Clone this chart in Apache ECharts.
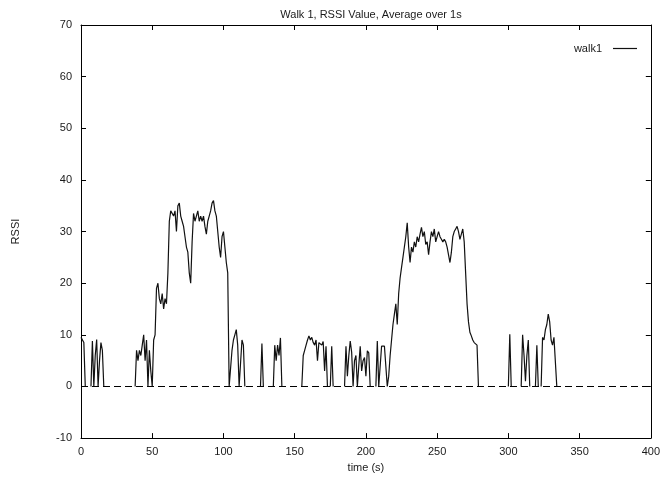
<!DOCTYPE html>
<html>
<head>
<meta charset="utf-8">
<script src="https://cdn.jsdelivr.net/npm/echarts@6/dist/echarts.min.js"></script>
<style>
html,body{margin:0;padding:0;background:#fff;}
#chart{width:663px;height:478px;}
</style>
</head>
<body>
<div id="chart"></div>
<script>
// ---- data ----
const titleText = 'Walk 1, RSSI Value, Average over 1s';
const seriesName = 'walk1';
const xName = 'time (s)';
const yName = 'RSSI';
const xTicks = [0, 50, 100, 150, 200, 250, 300, 350, 400];
const yTicks = [-10, 0, 10, 20, 30, 40, 50, 60, 70];
const startTime = 0;   // s
const sampleStep = 1;  // s (average over 1 s)
const rssi = [
  9.5, 9.2, 8.5, 0, 0, 0, 0, 0, 8.8, 0,
  6, 9.1, 0, 5, 8.5, 7, 0, 0, 0, 0,
  0, 0, 0, 0, 0, 0, 0, 0, 0, 0,
  0, 0, 0, 0, 0, 0, 0, 0, 0, 7,
  5, 7, 6, 8, 10, 5, 9, 0, 7, 3,
  0, 9, 10, 19, 20, 17, 16, 18, 15, 17,
  16, 22, 32, 34, 34, 33, 34, 30, 35, 35.5,
  33, 32, 31, 29, 27, 26, 22, 20, 28, 33.5,
  32, 33, 34, 32, 33, 32, 33, 31, 29.5, 32,
  33, 34, 35.5, 36, 34, 33, 30, 27, 25, 29,
  30, 27, 24, 22, 0, 0, 7, 9, 10, 11,
  8, 0, 0, 9, 8, 0, 0, 0, 0, 0,
  0, 0, 0, 0, 0, 0, 0, 8.3, 0, 0,
  0, 0, 0, 0, 0, 0, 8, 5, 8, 6,
  9.4, 0, 0, 0, 0, 0, 0, 0, 0, 0,
  0, 0, 0, 0, 0, 0, 6, 7, 8, 9,
  9.8, 9, 9.5, 8.5, 8, 9, 5, 8.5, 8.4, 8,
  8.7, 3, 7.8, 0, 0, 0, 7.8, 0, 0, 0,
  0, 0, 0, 0, 0, 0, 7.8, 2, 6, 8.8,
  6.6, 0, 5, 6, 0, 4, 7.8, 3, 5, 5.6,
  2, 6.9, 6.5, 0, 0, 0, 0, 0, 8.8, 0,
  0, 7.8, 8, 7.8, 8, 0, 2, 6, 9, 12,
  14, 16, 12, 18, 21, 23, 25, 27, 29, 31.7,
  27, 24, 27, 26, 28, 27, 29, 28, 29.5, 30.8,
  29, 30, 27.5, 28, 25.5, 28, 30, 29, 30.5, 28,
  29, 30, 29, 28.5, 28, 28.5, 28, 27, 25.5, 24,
  26, 29, 30, 30.5, 31, 30, 28.5, 29.5, 30.5, 28,
  22, 16, 12.5, 10.5, 9.8, 9, 8.5, 8.2, 8, 0,
  0, 0, 0, 0, 0, 0, 0, 0, 0, 0,
  0, 0, 0, 0, 0, 0, 0, 0, 0, 0,
  0, 10.1, 0, 0, 0, 0, 0, 0, 0, 0,
  10, 6, 1, 6, 9, 0, 0, 0, 0, 0,
  8, 0, 0, 0, 9.5, 9, 11, 12, 14, 12.5,
  9, 8, 9.5, 9.7, 0
];

// Long runs of zero are not drawn in the reference (only the dashed zero axis shows there)
const lineData = rssi.map((v, i) => {
  const prev = i > 0 ? rssi[i - 1] : 0;
  const next = i < rssi.length - 1 ? rssi[i + 1] : 0;
  const hidden = v === 0 && prev === 0 && next === 0;
  return [startTime + i * sampleStep, hidden ? null : v];
});

const font = 'Liberation Sans, Arial, sans-serif';
const ink = '#1a1a1a';
const xMin = xTicks[0], xMax = xTicks[xTicks.length - 1], xInt = xTicks[1] - xTicks[0];
const yMin = yTicks[0], yMax = yTicks[yTicks.length - 1], yInt = yTicks[1] - yTicks[0];

const chart = echarts.init(document.getElementById('chart'), null, {renderer: 'canvas'});
const baseAxisLine = {show: true, onZero: false, lineStyle: {color: '#000', width: 1}};
const baseTick = {show: true, inside: true, length: 5, lineStyle: {color: '#000', width: 1}};

chart.setOption({
  animation: false,
  backgroundColor: '#fff',
  title: {
    text: titleText,
    left: 366,
    top: 4,
    textAlign: 'center',
    textStyle: {fontFamily: font, fontSize: 11, fontWeight: 'normal', color: ink}
  },
  legend: {
    data: [{name: seriesName, icon: 'rect'}],
    right: 21,
    top: 38,
    align: 'right',
    itemWidth: 24,
    itemHeight: 1.2,
    textStyle: {fontFamily: font, fontSize: 11, color: ink, padding: [0, 6, 0, 0]}
  },
  grid: {left: 81, right: 11, top: 25, bottom: 35, containLabel: false},
  xAxis: [{
    type: 'value', min: xMin, max: xMax, interval: xInt,
    name: xName, nameLocation: 'middle', nameGap: 23,
    nameTextStyle: {fontFamily: font, fontSize: 11, color: ink},
    axisLine: baseAxisLine, axisTick: baseTick,
    axisLabel: {margin: 8, fontFamily: font, fontSize: 11, color: ink},
    splitLine: {show: false}
  }, {
    type: 'value', position: 'top', min: xMin, max: xMax, interval: xInt,
    axisLine: baseAxisLine, axisTick: baseTick,
    axisLabel: {show: false}, splitLine: {show: false}
  }],
  yAxis: [{
    type: 'value', min: yMin, max: yMax, interval: yInt,
    name: yName, nameLocation: 'middle', nameGap: 60, nameRotate: 90,
    nameTextStyle: {fontFamily: font, fontSize: 11, color: ink},
    axisLine: baseAxisLine, axisTick: baseTick,
    axisLabel: {margin: 9, fontFamily: font, fontSize: 11, color: ink},
    splitLine: {show: false}
  }, {
    type: 'value', position: 'right', min: yMin, max: yMax, interval: yInt,
    axisLine: baseAxisLine, axisTick: baseTick,
    axisLabel: {show: false}, splitLine: {show: false}
  }],
  series: [{
    name: seriesName,
    type: 'line',
    xAxisIndex: 0,
    yAxisIndex: 0,
    data: lineData,
    symbol: 'none',
    connectNulls: false,
    lineStyle: {color: '#111', width: 1.2},
    itemStyle: {color: '#111'},
    markLine: {
      silent: true,
      symbol: 'none',
      label: {show: false},
      lineStyle: {color: '#000', width: 1, type: [7, 4]},
      data: [{yAxis: 0}]
    }
  }]
});
</script>
</body>
</html>
